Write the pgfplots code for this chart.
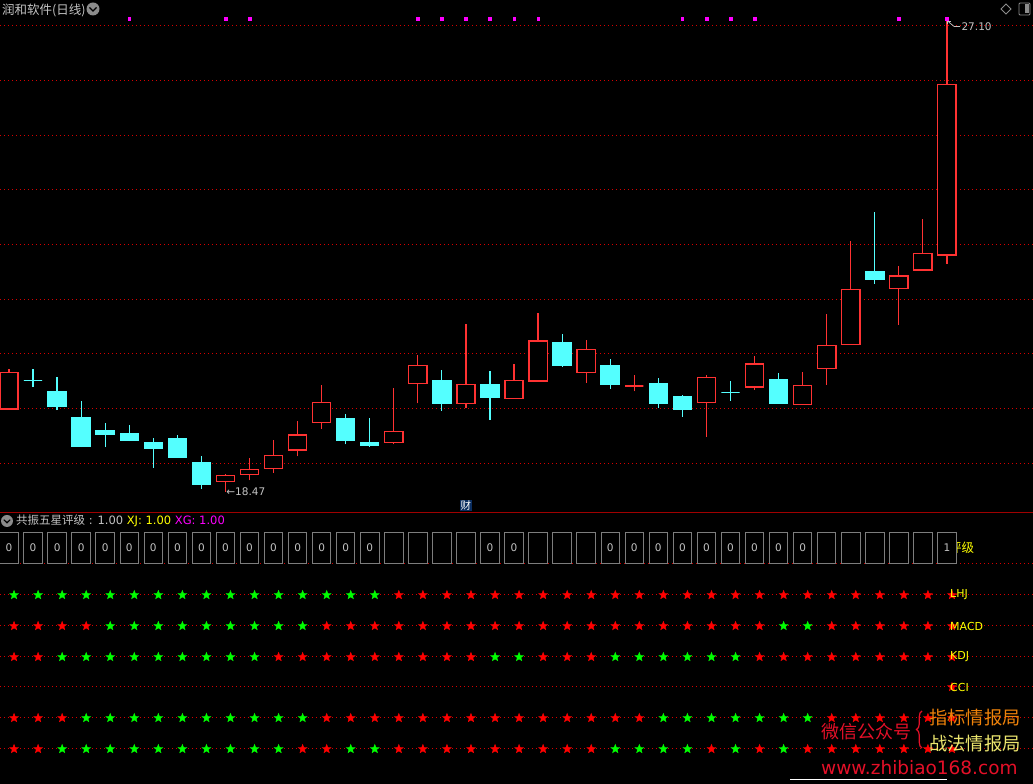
\documentclass[border=0pt]{standalone}
\usepackage{fontspec}
\setmainfont{DejaVu Sans}
\newfontfamily\cjk{Noto Sans CJK SC}
\usepackage{pgfplots}
\usepackage{pgfplotstable}
\pgfplotsset{compat=1.18}
\usetikzlibrary{decorations.pathreplacing}

\definecolor{kred}{RGB}{255,50,50}
\definecolor{kcyan}{RGB}{84,255,255}
\definecolor{gridred}{RGB}{215,0,0}
\definecolor{sred}{RGB}{255,0,0}
\definecolor{sgreen}{RGB}{0,255,0}
\definecolor{txt}{RGB}{195,195,195}
\definecolor{boxg}{RGB}{125,125,125}
\definecolor{mag}{RGB}{255,0,255}
\definecolor{sep}{RGB}{160,0,0}
\definecolor{yel}{RGB}{255,255,0}
\definecolor{icon}{RGB}{140,140,140}
\definecolor{wred}{RGB}{228,16,40}
\definecolor{worange}{RGB}{238,130,10}
\definecolor{wyel}{RGB}{236,230,110}
\definecolor{caibg}{RGB}{10,45,95}

\pgfdeclareplotmark{fstar}{%
  \pgfpathmoveto{\pgfqpointpolar{90}{\pgfplotmarksize}}%
  \pgfpathlineto{\pgfqpointpolar{126}{0.42\pgfplotmarksize}}%
  \pgfpathlineto{\pgfqpointpolar{162}{\pgfplotmarksize}}%
  \pgfpathlineto{\pgfqpointpolar{198}{0.42\pgfplotmarksize}}%
  \pgfpathlineto{\pgfqpointpolar{234}{\pgfplotmarksize}}%
  \pgfpathlineto{\pgfqpointpolar{270}{0.42\pgfplotmarksize}}%
  \pgfpathlineto{\pgfqpointpolar{306}{\pgfplotmarksize}}%
  \pgfpathlineto{\pgfqpointpolar{342}{0.42\pgfplotmarksize}}%
  \pgfpathlineto{\pgfqpointpolar{18}{\pgfplotmarksize}}%
  \pgfpathlineto{\pgfqpointpolar{54}{0.42\pgfplotmarksize}}%
  \pgfpathclose
  \pgfusepathqfillstroke
}

% candle: left, x, right, open, high, low, close
\newcommand{\Ku}[7]{%
\addplot[kred, line width=1.2pt] coordinates {(#2,#6) (#2,#5)};
\addplot[draw=kred, fill=black, line width=1.4pt] coordinates {(#1,#4) (#3,#4) (#3,#7) (#1,#7)} -- cycle;}
\newcommand{\Kd}[7]{%
\addplot[kcyan, line width=1.2pt] coordinates {(#2,#6) (#2,#5)};
\addplot[draw=kcyan, fill=kcyan, line width=1.2pt] coordinates {(#1,#4) (#3,#4) (#3,#7) (#1,#7)} -- cycle;}

\pgfplotstableread{
i L M K P Q
0 g r r r r
1 g r r r r
2 g r g r g
3 g r g g g
4 g g g g g
5 g g g g g
6 g g g g g
7 g g g g g
8 g g g g g
9 g g g g g
10 g g g g g
11 g g r g g
12 g g r g r
13 g r r r r
14 g r r r g
15 g r r r g
16 r r r r r
17 r r r r r
18 r r r r r
19 r r r r r
20 r r g r r
21 r r g r r
22 r r r r r
23 r r r r r
24 r r r r r
25 r r g r g
26 r r g r g
27 r r g g g
28 r r g g g
29 r r g g r
30 r r g g g
31 r r r g r
32 r g r g g
33 r g r g r
34 r r r r r
35 r r r r r
36 r r r r r
37 r r r r r
38 r r r r r
39 r r r r r
}\stars

\begin{document}
\begin{tikzpicture}[x=1pt,y=1pt]
\fill[black] (0,0) rectangle (1033,784);
\useasboundingbox (0,0) rectangle (1033,784);

% title bar
\node[anchor=west, inner sep=0, text=txt, font=\cjk\fontsize{12.5}{14}\selectfont] at (2,774) {润和软件(日线)};
\fill[icon] (93,775) circle (6.5);
\draw[black, line width=1.3pt] (89.5,776.5) -- (93,773) -- (96.5,776.5);
\draw[icon, line width=0.8pt] (1001,775) -- (1006,780) -- (1011,775) -- (1006,770) -- cycle;
\draw[icon, line width=0.8pt, rounded corners=1pt] (1019,769) rectangle (1030,781);
\fill[icon] (1024.5,770.5) rectangle (1028.5,779.5);

\begin{axis}[at={(0pt,271pt)}, anchor=south west, scale only axis,
  width=1033pt, height=513pt,
  xmin=-0.374, xmax=42.58, ymin=18.085, ymax=27.476,
  axis line style={draw=none}, xtick=\empty,
  ytick={19,20,...,27}, yticklabels={}, major tick length=0pt,
  ymajorgrids, grid style={draw=gridred, line width=1pt, dash pattern=on 1pt off 3pt},
  clip=false]
\Ku{-0.38}{0}{0.38}{19.99}{20.73}{19.99}{20.66}
\Kd{0.62}{1}{1.38}{20.51}{20.73}{20.40}{20.51}
\Kd{1.62}{2}{2.38}{20.30}{20.57}{19.97}{20.04}
\Kd{2.62}{3}{3.38}{19.84}{20.14}{19.29}{19.31}
\Kd{3.62}{4}{4.38}{19.59}{19.73}{19.29}{19.53}
\Kd{4.62}{5}{5.38}{19.53}{19.70}{19.40}{19.42}
\Kd{5.62}{6}{6.38}{19.37}{19.46}{18.91}{19.26}
\Kd{6.62}{7}{7.38}{19.44}{19.51}{19.11}{19.11}
\Kd{7.62}{8}{8.38}{19.00}{19.13}{18.52}{18.60}
\Ku{8.62}{9}{9.38}{18.66}{18.80}{18.47}{18.77}
\Ku{9.62}{10}{10.38}{18.79}{19.09}{18.68}{18.88}
\Ku{10.62}{11}{11.38}{18.90}{19.42}{18.82}{19.14}
\Ku{11.62}{12}{12.38}{19.24}{19.77}{19.12}{19.51}
\Ku{12.62}{13}{13.38}{19.74}{20.43}{19.63}{20.11}
\Kd{13.62}{14}{14.38}{19.81}{19.90}{19.34}{19.41}
\Kd{14.62}{15}{15.38}{19.37}{19.82}{19.30}{19.32}
\Ku{15.62}{16}{16.38}{19.37}{20.37}{19.34}{19.58}
\Ku{16.62}{17}{17.38}{20.46}{20.98}{20.09}{20.79}
\Kd{17.62}{18}{18.38}{20.50}{20.70}{19.96}{20.09}
\Ku{18.62}{19}{19.38}{20.09}{21.54}{20.01}{20.44}
\Kd{19.62}{20}{20.38}{20.43}{20.68}{19.79}{20.21}
\Ku{20.62}{21}{21.38}{20.18}{20.81}{20.18}{20.51}
\Ku{21.62}{22}{22.38}{20.50}{21.75}{20.50}{21.23}
\Kd{22.62}{23}{23.38}{21.20}{21.36}{20.76}{20.78}
\Ku{23.62}{24}{24.38}{20.66}{21.25}{20.47}{21.08}
\Kd{24.62}{25}{25.38}{20.79}{20.90}{20.36}{20.43}
\Ku{25.62}{26}{26.38}{20.41}{20.61}{20.31}{20.41}
\Kd{26.62}{27}{27.38}{20.45}{20.56}{20.01}{20.09}
\Kd{27.62}{28}{28.38}{20.21}{20.24}{19.85}{19.98}
\Ku{28.62}{29}{29.38}{20.11}{20.61}{19.48}{20.57}
\Kd{29.62}{30}{30.38}{20.29}{20.50}{20.14}{20.29}
\Ku{30.62}{31}{31.38}{20.39}{20.96}{20.34}{20.81}
\Kd{31.62}{32}{32.38}{20.52}{20.65}{20.09}{20.09}
\Ku{32.62}{33}{33.38}{20.07}{20.67}{20.07}{20.42}
\Ku{33.62}{34}{34.38}{20.73}{21.73}{20.43}{21.15}
\Ku{34.62}{35}{35.38}{21.17}{23.06}{21.17}{22.18}
\Kd{35.62}{36}{36.38}{22.50}{23.60}{22.28}{22.37}
\Ku{36.62}{37}{37.38}{22.20}{22.61}{21.53}{22.42}
\Ku{37.62}{38}{38.38}{22.53}{23.47}{22.53}{22.84}
\Ku{38.62}{39}{39.38}{22.81}{27.10}{22.65}{25.93}
% signal dots
\addplot[only marks, mark=square*, mark size=1.3pt, mag] coordinates {
(5,27.13) (9,27.13) (10,27.13) (17,27.13) (18,27.13) (19,27.13) (20,27.13)
(21,27.13) (22,27.13) (28,27.13) (29,27.13) (30,27.13) (31,27.13) (37,27.13) (39,27.13)};
% annotations
\node[anchor=west, inner sep=0, text=txt, font=\fontsize{10.5}{12}\selectfont] at (axis cs:9.03,18.47) {←18.47};
\draw[txt, line width=0.7pt] (axis cs:39.03,27.09) -- (axis cs:39.3,26.99) -- (axis cs:39.55,26.99);
\draw[txt, line width=0.7pt] (axis cs:39.03,27.09) -- (axis cs:39.17,27.09);
\draw[txt, line width=0.7pt] (axis cs:39.03,27.09) -- (axis cs:39.03,27.03);
\node[anchor=west, inner sep=0, text=txt, font=\fontsize{10.5}{12}\selectfont] at (axis cs:39.6,26.98) {27.10};
\node[inner sep=1pt, fill=caibg, text=white, font=\cjk\fontsize{10.5}{12}\selectfont] at (axis cs:19.0,18.22) {财};
\end{axis}

\draw[sep, line width=1pt] (0,271) -- (1033,271);
\fill[icon] (7,263) circle (6);
\draw[black, line width=1.2pt] (3.8,264.3) -- (7,261.2) -- (10.2,264.3);
\node[anchor=west, inner sep=0, text=txt, font=\fontsize{11.5}{13}\selectfont] at (16,263)
 {{\cjk 共振五星评级} : 1.00 \textcolor{yel}{XJ: 1.00} \textcolor{mag}{XG: 1.00}};
\node[anchor=west, inner sep=0, text=yel, font=\cjk\fontsize{12.5}{14}\selectfont] at (949,236) {评级};

\begin{axis}[at={(0pt,0pt)}, anchor=south west, scale only axis,
  width=1033pt, height=271pt,
  xmin=-0.374, xmax=42.58, ymin=0, ymax=271,
  axis line style={draw=none}, xtick=\empty,
  ytick={35,66,97,127,158,189,220}, yticklabels={}, major tick length=0pt,
  ymajorgrids, grid style={draw=gridred, line width=1pt, dash pattern=on 1pt off 3pt},
  clip=false]
% boxes
\addplot[draw=none, nodes near coords, point meta=explicit symbolic,
  nodes near coords style={draw=boxg, fill=black, line width=0.9pt, inner sep=0pt,
   minimum width=18.5pt, minimum height=31pt, text=txt, font=\fontsize{10.5}{12}\selectfont}]
 coordinates {(0,220)[0] (1,220)[0] (2,220)[0] (3,220)[0] (4,220)[0] (5,220)[0] (6,220)[0]
 (7,220)[0] (8,220)[0] (9,220)[0] (10,220)[0] (11,220)[0] (12,220)[0] (13,220)[0] (14,220)[0]
 (15,220)[0] (20,220)[0] (21,220)[0] (25,220)[0] (26,220)[0] (27,220)[0] (28,220)[0] (29,220)[0]
 (30,220)[0] (31,220)[0] (32,220)[0] (33,220)[0] (39,220)[1]};
\addplot[draw=none, nodes near coords={\phantom{0}},
  nodes near coords style={draw=boxg, fill=black, line width=0.9pt, inner sep=0pt,
   minimum width=18.5pt, minimum height=31pt, text=txt, font=\fontsize{10.5}{12}\selectfont}]
 coordinates {(16,220) (17,220) (18,220) (19,220) (22,220) (23,220) (24,220)
 (34,220) (35,220) (36,220) (37,220) (38,220)};
% stars
\pgfplotsset{starst/.style={scatter, only marks, mark size=4.6pt, point meta=explicit symbolic,
  scatter/classes={r={mark=fstar,sred}, g={mark=fstar,sgreen}}}}
\addplot[starst] table[x expr=\thisrow{i}+0.21, y expr=189, meta=L] {\stars};
\addplot[starst] table[x expr=\thisrow{i}+0.21, y expr=158, meta=M] {\stars};
\addplot[starst] table[x expr=\thisrow{i}+0.21, y expr=127, meta=K] {\stars};
\addplot[only marks, mark=fstar, mark size=4.6pt, sred] coordinates {(39.21,97)};
\addplot[starst] table[x expr=\thisrow{i}+0.21, y expr=66, meta=P] {\stars};
\addplot[starst] table[x expr=\thisrow{i}+0.21, y expr=35, meta=Q] {\stars};
\end{axis}

% row labels (drawn over the last stars)
\node[anchor=west, inner sep=0, text=yel, font=\fontsize{11}{13}\selectfont] at (950,189) {LHJ};
\node[anchor=west, inner sep=0, text=yel, font=\fontsize{11}{13}\selectfont] at (950,158) {MACD};
\node[anchor=west, inner sep=0, text=yel, font=\fontsize{11}{13}\selectfont] at (950,127) {KDJ};
\node[anchor=west, inner sep=0, text=yel, font=\fontsize{11}{13}\selectfont] at (950,97) {CCI};

% watermark
\node[anchor=west, inner sep=0, text=wred, font=\cjk\fontsize{18}{20}\selectfont] at (821,52) {微信公众号};
\draw[wred, line width=1.2pt, decorate, decoration={brace, amplitude=5.5pt}] (922,36) -- (922,73);
\node[anchor=west, inner sep=0, text=worange, font=\cjk\fontsize{18.3}{20}\selectfont] at (929,66) {指标情报局};
\node[anchor=west, inner sep=0, text=wyel, font=\cjk\fontsize{18.3}{20}\selectfont] at (929,40) {战法情报局};
\node[anchor=west, inner sep=0, text=wred, font=\fontsize{18.5}{20}\selectfont] at (821,16) {www.zhibiao168.com};
\draw[white, line width=1pt] (790,4) -- (947,4);
\end{tikzpicture}
\end{document}
